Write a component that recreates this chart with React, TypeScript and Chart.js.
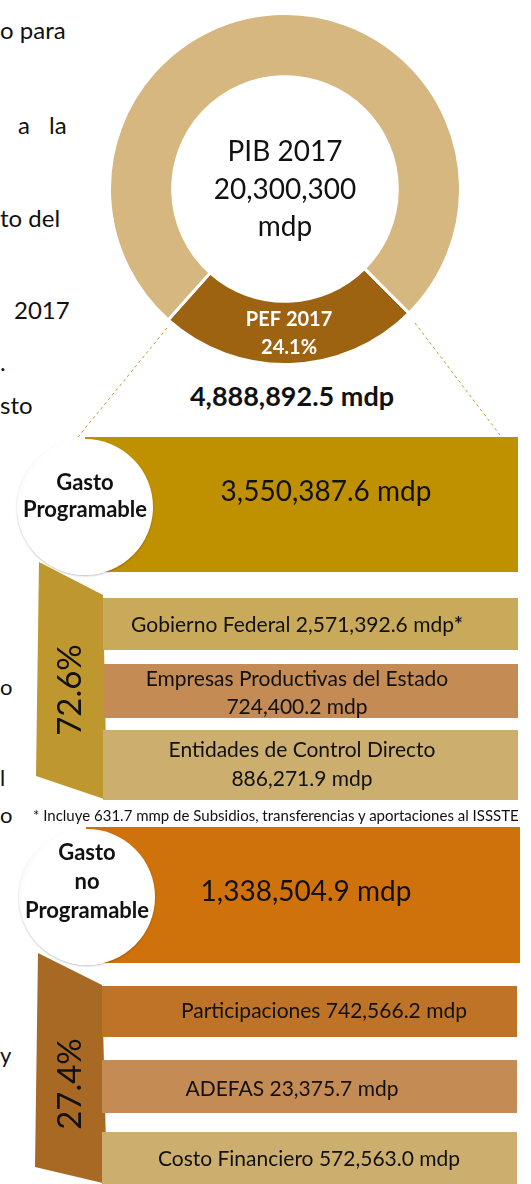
import React, { useEffect, useRef } from "react";
import { Chart, registerables } from "chart.js";

Chart.register(...registerables);

// ---------- data ----------
const donutLabels = ["PEF 2017", "Resto del PIB"];
const donutValues = [24.1, 75.9];
const donutColors = ["#9E6311", "#D5B77F"];
const sliceLabel = ["PEF 2017", "24.1%"];
const centerLines = ["PIB 2017", "20,300,300", "mdp"];
const pefTotal = "4,888,892.5 mdp";

const groupTitles = [["Gasto", "Programable"], ["Gasto", "no", "Programable"]];
const groupValues = ["3,550,387.6 mdp", "1,338,504.9 mdp"];
const groupShares = ["72.6%", "27.4%"];
const progItems = [
  ["Gobierno Federal 2,571,392.6 mdp"],
  ["Empresas Productivas del Estado", "724,400.2 mdp"],
  ["Entidades de Control Directo", "886,271.9 mdp"],
];
const noProgItems = [
  ["Participaciones 742,566.2 mdp"],
  ["ADEFAS 23,375.7 mdp"],
  ["Costo Financiero 572,563.0 mdp"],
];
const footnote = "* Incluye 631.7 mmp de Subsidios, transferencias y aportaciones al ISSSTE";
const sideFragments = ["o para", "a", "la", "to del", "2017", ".", "sto"];
const lowerFragmentTexts = ["o", "l", "o", "y"];

// ---------- layout / style ----------
const FONT = "Lato, 'Open Sans', sans-serif";
const groupLayout = [
  {
    box: { x: 85, y: 437, w: 433, h: 135, color: "#BF9000" },
    valueCenter: { x: 326, y: 490 },
    circle: { cx: 85, cy: 507, r: 68 },
    titleYs: [482, 509],
    trap: [[39, 562], [103, 595], [107, 800], [36, 776]],
    trapColor: "#BE982F",
    shareCenter: { x: 68, y: 690 },
    items: [
      { y: 598, h: 52, color: "#C9AA5A", cx: 297, lineYs: [623] },
      { y: 664, h: 54, color: "#C48B55", cx: 297, lineYs: [677, 705] },
      { y: 730, h: 70, color: "#CCAE6E", cx: 302, lineYs: [748, 777] },
    ],
  },
  {
    box: { x: 86, y: 827, w: 434, h: 136, color: "#D0720C" },
    valueCenter: { x: 306, y: 890 },
    circle: { cx: 87, cy: 897, r: 68 },
    titleYs: [852, 881, 910],
    trap: [[38, 953], [102, 985], [107, 1184], [35, 1167]],
    trapColor: "#A86924",
    shareCenter: { x: 68, y: 1084 },
    items: [
      { y: 986, h: 51, color: "#BF7327", cx: 324, lineYs: [1009] },
      { y: 1060, h: 53, color: "#C48B55", cx: 292, lineYs: [1087] },
      { y: 1132, h: 52, color: "#CCAE6E", cx: 309, lineYs: [1157] },
    ],
  },
];
const sidePos = [
  { y: 30, left: 0 },
  { y: 125, left: 18 },
  { y: 125, left: 49 },
  { y: 218, left: 0 },
  { y: 310, left: 14 },
  { y: 362, left: 0 },
  { y: 405, left: 0 },
];
const lowerYs = [687, 778, 815, 1055];

function Donut() {
  const ref = useRef<HTMLCanvasElement | null>(null);
  useEffect(() => {
    if (!ref.current) return;
    const labelPlugin = {
      id: "labels",
      afterDraw(chart: any) {
        const ctx = chart.ctx;
        const arc = chart.getDatasetMeta(0).data[0];
        const { x, y, innerRadius, outerRadius, startAngle, endAngle } = arc.getProps(
          ["x", "y", "innerRadius", "outerRadius", "startAngle", "endAngle"],
          true
        );
        ctx.save();
        ctx.textAlign = "center";
        ctx.textBaseline = "middle";
        ctx.fillStyle = "#111";
        ctx.font = `28px ${FONT}`;
        centerLines.forEach((l, i) => ctx.fillText(l, x, y - 37 + i * 37.5));
        const mid = (startAngle + endAngle) / 2;
        const r = (innerRadius + outerRadius) / 2;
        const lx = x + Math.cos(mid) * r;
        const ly = y + Math.sin(mid) * r;
        ctx.fillStyle = "#fff";
        ctx.font = `bold 20px ${FONT}`;
        ctx.fillText(sliceLabel[0], lx, ly - 13);
        ctx.fillText(sliceLabel[1], lx, ly + 15);
        ctx.restore();
      },
    };
    const chart = new Chart(ref.current, {
      type: "doughnut",
      data: {
        labels: donutLabels,
        datasets: [
          {
            data: donutValues,
            backgroundColor: donutColors,
            borderColor: "#ffffff",
            borderWidth: 3,
          },
        ],
      },
      options: {
        responsive: false,
        animation: false,
        events: [],
        cutout: "64%",
        rotation: 135,
        layout: { padding: 0 },
        plugins: { legend: { display: false }, tooltip: { enabled: false } },
      },
      plugins: [labelPlugin],
    });
    return () => chart.destroy();
  }, []);
  return (
    <canvas
      ref={ref}
      width={354}
      height={354}
      style={{ position: "absolute", left: 108, top: 12, width: 354, height: 354 }}
    />
  );
}

export default function App() {
  const abs = (s: React.CSSProperties): React.CSSProperties => ({ position: "absolute", ...s });
  const centered = (cx: number, cy: number, extra: React.CSSProperties = {}): React.CSSProperties =>
    abs({ left: cx - 300, top: cy, width: 600, textAlign: "center", transform: "translateY(-50%)", whiteSpace: "nowrap", lineHeight: 1, ...extra });
  return (
    <div
      style={{
        position: "fixed",
        left: 0,
        top: 0,
        width: 531,
        height: 1184,
        overflow: "hidden",
        background: "#fff",
        fontFamily: FONT,
        color: "#111",
      }}
    >
      {sideFragments.map((t, i) => (
        <div key={"s" + i} style={abs({ left: sidePos[i].left, top: sidePos[i].y, transform: "translateY(-50%)", fontSize: 24, lineHeight: 1.1, whiteSpace: "pre", color: "#111" })}>
          {t}
        </div>
      ))}
      {lowerFragmentTexts.map((t, i) => (
        <div key={"l" + i} style={abs({ left: 0, top: lowerYs[i], transform: "translateY(-50%)", fontSize: 22, lineHeight: 1.1, color: "#111" })}>
          {t}
        </div>
      ))}

      <Donut />
      <div style={centered(292, 395, { fontSize: 27, fontWeight: 700, color: "#111" })}>{pefTotal}</div>

      <svg width={531} height={1184} style={abs({ left: 0, top: 0 })}>
        <line x1={167} y1={328} x2={78} y2={437} stroke="#C9962A" strokeWidth={1} strokeDasharray="3 3" />
        <line x1={415} y1={323} x2={500} y2={435} stroke="#C9962A" strokeWidth={1} strokeDasharray="3 3" />
        {groupLayout.map((g, i) => (
          <polygon key={"t" + i} points={g.trap.map((p) => p.join(",")).join(" ")} fill={g.trapColor} />
        ))}
      </svg>

      {groupLayout.map((g, gi) => {
        const items = gi === 0 ? progItems : noProgItems;
        return (
          <React.Fragment key={"g" + gi}>
            <div style={abs({ left: g.box.x, top: g.box.y, width: g.box.w, height: g.box.h, background: g.box.color })} />
            <div style={centered(g.valueCenter.x, g.valueCenter.y, { fontSize: 28 })}>{groupValues[gi]}</div>
            {g.items.map((it, ii) => (
              <React.Fragment key={"i" + ii}>
                <div style={abs({ left: gi === 0 ? 103 : 102, top: it.y, width: 415, height: it.h, background: it.color })} />
                {items[ii].map((line, li) => (
                  <div key={li} style={centered(it.cx, it.lineYs[li], { fontSize: 21 })}>
                    {line}
                    {gi === 0 && ii === 0 && <b>*</b>}
                  </div>
                ))}
              </React.Fragment>
            ))}
            <div
              style={abs({
                left: g.shareCenter.x - 100,
                top: g.shareCenter.y - 20,
                width: 200,
                height: 40,
                lineHeight: "40px",
                textAlign: "center",
                fontSize: 33,
                transform: "rotate(-90deg)",
              })}
            >
              {groupShares[gi]}
            </div>
            <div
              style={abs({
                left: g.circle.cx - g.circle.r,
                top: g.circle.cy - g.circle.r,
                width: g.circle.r * 2,
                height: g.circle.r * 2,
                borderRadius: "50%",
                background:
                  "radial-gradient(circle at 58% 52%, #ffffff 0%, #ffffff 70%, #f2f2f2 82%, #c4c4c4 92%, #8a8a8a 98%, #b0b0b0 100%)",
                boxShadow: "0 1px 2px rgba(0,0,0,0.25)",
              })}
            />
            {groupTitles[gi].map((t, ti) => (
              <div key={"c" + ti} style={centered(g.circle.cx, g.titleYs[ti], { fontSize: 22, fontWeight: 700 })}>
                {t}
              </div>
            ))}
          </React.Fragment>
        );
      })}

      <div style={abs({ left: 33, top: 815, transform: "translateY(-50%)", fontSize: 15, lineHeight: 1, whiteSpace: "nowrap" })}>{footnote}</div>
    </div>
  );
}
